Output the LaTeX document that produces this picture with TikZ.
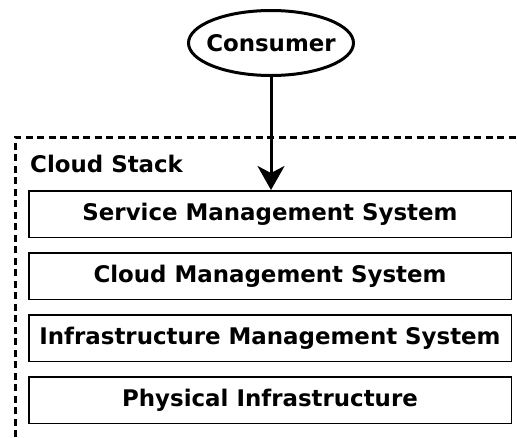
\documentclass[tikz,border=0pt]{standalone}
\usepackage{fontspec}
\setmainfont{DejaVu Sans}
\usetikzlibrary{positioning,shapes.geometric,arrows.meta}
\tikzset{
  label font/.style={font=\bfseries\fontsize{22.9}{27}\selectfont},
  layer/.style={draw, line width=1.5pt, minimum width=482.5pt, minimum height=46.5pt, inner sep=0pt, label font},
}
\begin{document}
\begin{tikzpicture}[x=1pt,y=-1pt]
  \useasboundingbox (0,0) rectangle (517,437);
  \clip (0,0) rectangle (517,437);

  % cloud stack frame
  \draw[line width=3pt, dash pattern=on 7pt off 4.5pt] (15,460) -- (15,137) -- (540,137);
  \node[anchor=base west, inner sep=0pt, label font] (stack) at (30,172) {Cloud Stack};

  % layers
  \node[layer] (sms) at (270,214) {Service Management System};
  \node[layer, below=14pt of sms] (cms) {Cloud Management System};
  \node[layer, below=14pt of cms] (ims) {Infrastructure Management System};
  \node[layer, below=14pt of ims] (phys) {Physical Infrastructure};

  % consumer
  \node[ellipse, draw, line width=3pt, minimum width=165pt, minimum height=65pt, inner xsep=-7pt, inner ysep=0pt, label font] (consumer) at (271,43) {Consumer};
  \draw[line width=3pt, -{Stealth[length=24pt, width=27pt, inset=7pt]}] (consumer) -- (consumer |- sms.north);
\end{tikzpicture}
\end{document}
